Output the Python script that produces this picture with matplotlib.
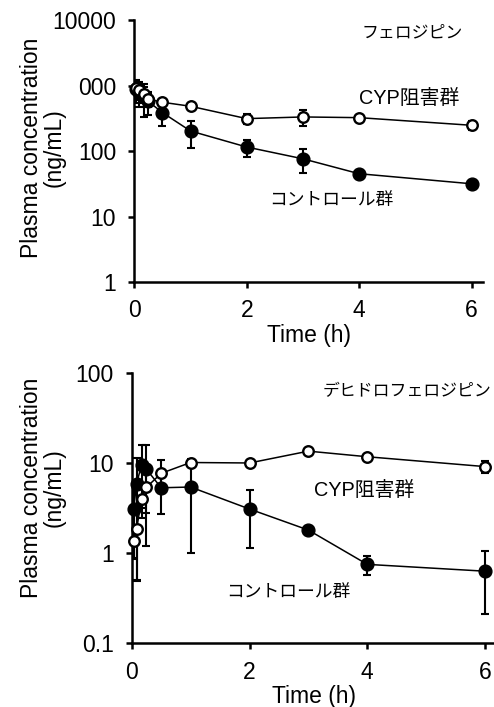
import matplotlib
matplotlib.use("Agg")
import matplotlib.pyplot as plt
import numpy as np

W, H = 494, 707
plt.rcParams['font.family'] = ['Liberation Sans', 'Noto Sans CJK JP', 'DejaVu Sans']

# ---- data ----
times = [0.033, 0.083, 0.167, 0.25, 0.5, 1, 2, 3, 4, 6]

# Felodipine (top)
felo_ctrl = [870, 800, 700, 570, 386, 202, 115, 76, 45, 31.6]
felo_ctrl_sd = [330, 330, 370, 220, 145, 90, 34, 30, 4, 3]
felo_cyp = [900, 850, 750, 620, 555, 482, 312, 331, 323, 247]
felo_cyp_sd = [200, 250, 200, 150, 50, 63, 50, 93, 20, 40]

# Dehydrofelodipine (bottom)
dehy_ctrl = [3.08, 5.9, 9.5, 8.5, 5.3, 5.4, 3.08, 1.8, 0.75, 0.63]
dehy_ctrl_sd = [2.2, 5.4, 6.3, 7.3, 2.6, 4.4, 1.95, 0.1, 0.18, 0.42]
dehy_cyp = [1.36, 1.84, 3.98, 5.36, 7.66, 10.1, 9.98, 13.5, 11.7, 9.1]
dehy_cyp_sd = [0.5, 1.35, 1.5, 2.6, 3.0, 1.0, 0.5, 0.8, 0.6, 1.4]

top_yticks = [1, 10, 100, 1000, 10000]
top_yticklabels = ['1', '10', '100', '000', '10000']
bot_yticks = [0.1, 1, 10, 100]
bot_yticklabels = ['0.1', '1', '10', '100']
xticks = [0, 2, 4, 6]

FS = 16.5

fig = plt.figure(figsize=(W / 100, H / 100), dpi=100)


def px_axes(x0, y0, x1, y1):
    return fig.add_axes([x0 / W, 1 - y1 / H, (x1 - x0) / W, (y1 - y0) / H])


def draw(ax, ctrl, ctrl_sd, cyp, cyp_sd):
    ctrl = np.array(ctrl); ctrl_sd = np.array(ctrl_sd)
    cyp = np.array(cyp); cyp_sd = np.array(cyp_sd)
    lo_c = np.minimum(ctrl_sd, ctrl * 0.999)
    lo_p = np.minimum(cyp_sd, cyp * 0.999)
    ax.errorbar(times, ctrl, yerr=[lo_c, ctrl_sd], fmt='none', ecolor='black',
                elinewidth=1.5, capsize=2.6, capthick=1.5, zorder=2)
    ax.errorbar(times, cyp, yerr=[lo_p, cyp_sd], fmt='none', ecolor='black',
                elinewidth=1.5, capsize=2.6, capthick=1.5, zorder=2)
    ax.plot(times, ctrl, '-', color='black', lw=1.1, marker='o', ms=9.2,
            mfc='black', mec='black', zorder=3, clip_on=False)
    ax.plot(times, cyp, '-', color='black', lw=1.1, marker='o', ms=7.6,
            mfc='white', mec='black', mew=1.7, zorder=4, clip_on=False)


def style(ax):
    for s in ['top', 'right']:
        ax.spines[s].set_visible(False)
    for s in ['left', 'bottom']:
        ax.spines[s].set_linewidth(1.8)
    ax.tick_params(axis='both', which='major', direction='out', length=4.5,
                   width=1.8, labelsize=FS)
    ax.tick_params(axis='y', pad=8.5)
    ax.tick_params(axis='x', pad=8)
    ax.tick_params(axis='y', which='minor', length=0)
    ax.set_xticks(xticks)
    ax.set_xticklabels([str(v) for v in xticks])


# Top axes
ax1 = px_axes(134.3, 20, 134.3 + 6.2 * 56.2, 282)
ax1.set_yscale('log')
draw(ax1, felo_ctrl, felo_ctrl_sd, felo_cyp, felo_cyp_sd)
ax1.set_xlim(0, 6.2)
ax1.set_ylim(1, 10000)
ax1.set_yticks(top_yticks)
ax1.set_yticklabels(top_yticklabels)
style(ax1)
ax1.set_xlabel('Time (h)', fontsize=FS, labelpad=1)

# Bottom axes
ax2 = px_axes(131.7, 372.7, 131.7 + 6.2 * 58.9, 643.3)
ax2.set_yscale('log')
draw(ax2, dehy_ctrl, dehy_ctrl_sd, dehy_cyp, dehy_cyp_sd)
ax2.set_xlim(0, 6.2)
ax2.set_ylim(0.1, 100)
ax2.set_yticks(bot_yticks)
ax2.set_yticklabels(bot_yticklabels)
style(ax2)
ax2.set_xlabel('Time (h)', fontsize=FS, labelpad=1)


def ftext(x, y, s, size, ha='left', **kw):
    fig.text(x / W, 1 - y / H, s, fontsize=size, ha=ha, va='center', **kw)


# y labels
ftext(43, 148, 'Plasma concentration\n(ng/mL)', FS, ha='center', rotation=90,
      multialignment='center', linespacing=1.0)
ftext(43, 488, 'Plasma concentration\n(ng/mL)', FS, ha='center', rotation=90,
      multialignment='center', linespacing=1.0)

# annotations
ftext(362, 33, 'フェロジピン', 12.2)
ftext(359, 98, 'CYP阻害群', 14.3)
ftext(269, 200, 'コントロール群', 12.8)
ftext(491, 392, 'デヒドロフェロジピン', 12.2, ha='right')
ftext(314, 490, 'CYP阻害群', 14.3)
ftext(226, 592, 'コントロール群', 12.8)

fig.savefig('out.png', dpi=100)
